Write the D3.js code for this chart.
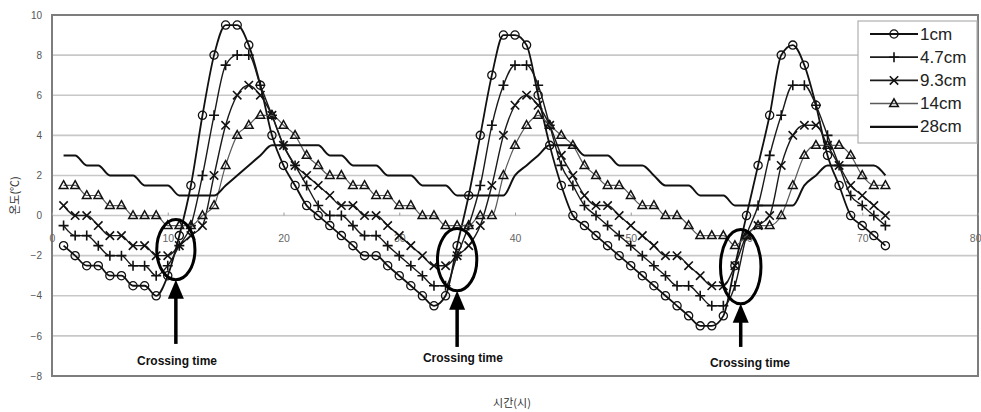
<!DOCTYPE html>
<html>
<head>
<meta charset="utf-8">
<script src="https://cdn.jsdelivr.net/npm/d3@7"></script>
<style>
  body { margin: 0; background: #fff; }
  svg { display: block; font-family: "Liberation Sans", Arial, sans-serif; }
</style>
</head>
<body>
<div id="chart"></div>
<script>
(function (d3) {
  'use strict';

  // hours (x) and soil temperature at each depth (y, °C)
  var hours = [1,2,3,4,5,6,7,8,9,10,11,12,13,14,15,16,17,18,19,20,21,22,23,24,
    25,26,27,28,29,30,31,32,33,34,35,36,37,38,39,40,41,42,43,44,45,46,47,48,
    49,50,51,52,53,54,55,56,57,58,59,60,61,62,63,64,65,66,67,68,69,70,71,72];

  var temp1cm = [-1.5,-2,-2.5,-2.5,-3,-3,-3.5,-3.5,-4,-3,-1,1.5,
    5,8,9.5,9.5,8.5,6.5,4,2.5,1.5,0.5,0,-0.5,
    -1,-1.5,-2,-2,-2.5,-3,-3.5,-4,-4.5,-4,-1.5,1,
    4,7,9,9,8.5,6,3.5,1.5,0,-0.5,-1,-1.5,
    -2,-2.5,-3,-3.5,-4,-4.5,-5,-5.5,-5.5,-5,-2.5,0,
    2.5,5,8,8.5,7.5,5.5,3,1.5,0,-0.5,-1,-1.5];

  var temp4_7cm = [-0.5,-1,-1,-1.5,-2,-2,-2.5,-2.5,-3,-2.5,-1.5,-0.5,
    2,5,7.5,8,8,6.5,5,3.5,2.5,1.5,0.5,0,
    0,-0.5,-1,-1,-1.5,-2,-2.5,-3,-3.5,-3.5,-2,-0.5,
    1.5,4.5,6.5,7.5,7.5,6.5,4.5,2.5,1.5,0.5,0,-0.5,
    -1,-1.5,-2,-2.5,-3,-3.5,-3.5,-4,-4.5,-4.5,-3.5,-1,
    0.5,3,5,6.5,6.5,5.5,4,2.5,1,0.5,0,-0.5];

  var temp9_3cm = [0.5,0,0,-0.5,-1,-1,-1.5,-1.5,-2,-2,-1.5,-1,
    -0.5,2,4.5,6,6.5,6,5,3.5,2.5,2,1.5,1,
    0.5,0.5,0,0,-0.5,-1,-1.5,-2,-2.5,-2.5,-2,-1.5,
    -0.5,1.5,4,5.5,6,5.5,4.5,3,2,1,0.5,0.5,
    0,-0.5,-1,-1.5,-2,-2,-2.5,-3,-3.5,-3.5,-2.5,-1,
    -0.5,0,2.5,4,4.5,4.5,3.5,2.5,1.5,1,0.5,0];

  var temp14cm = [1.5,1.5,1,1,0.5,0.5,0,0,0,-0.5,-0.5,-0.5,
    0,0.5,2.5,4,4.5,5,5,4.5,4,3,2.5,2,
    2,1.5,1.5,1,1,0.5,0.5,0,0,-0.5,-0.5,-0.5,
    0,0,2,3.5,4.5,5,4.5,4,3.5,2.5,2,1.5,
    1.5,1,0.5,0.5,0,0,-0.5,-1,-1,-1,-1.5,-1,
    -0.5,-0.5,0,1.5,3,3.5,3.5,3.5,3,2,1.5,1.5];

  var temp28cm = [3,3,2.5,2.5,2,2,2,1.5,1.5,1.5,1,1,
    1,1,1.5,2,2.5,3,3.5,3.5,3.5,3.5,3.5,3,
    3,2.5,2.5,2.5,2,2,2,1.5,1.5,1.5,1,1,
    1,1,1,2,2.5,3,3.5,3.5,3.5,3,3,3,
    2.5,2.5,2.5,2,1.5,1.5,1.5,1,1,1,0.5,0.5,
    0.5,0.5,0.5,0.5,1.5,2,2.5,2.5,2.5,2.5,2.5,2];

  var seriesNames = ["1cm", "4.7cm", "9.3cm", "14cm", "28cm"];
  var seriesValues = [temp1cm, temp4_7cm, temp9_3cm, temp14cm, temp28cm];

  var xTicks = [0, 10, 20, 30, 40, 50, 60, 70, 80];
  var yTicks = [-8, -6, -4, -2, 0, 2, 4, 6, 8, 10];

  // crossing-time annotations: ellipse centre and half-sizes in (hours, °C)
  var crossT = [10.7, 35.0, 59.5];
  var crossV = [-1.7, -2.2, -2.55];
  var crossRT = [1.65, 1.7, 1.75];
  var crossRV = [1.5, 1.55, 1.85];
  var crossArrowEnd = [-6.4, -6.55, -6.55];
  var crossLabelT = [10.8, 35.5, 60.3];
  var crossLabelV = [-7.25, -7.1, -7.35];
  var crossLabel = "Crossing time";

  var xTitle = "시간(시)";
  var yTitle = "온도(℃)";

  var width = 981, height = 412;
  var svg = d3.select("#chart").append("svg").attr("width", width).attr("height", height);

  var x = d3.scaleLinear().domain([0, 80]).range([52, 978]);
  var y = d3.scaleLinear().domain([-8, 10]).range([376, 15]);

  // gridlines
  svg.append("g").selectAll("line").data(yTicks.filter(function (d) { return d > -8 && d < 10; }))
    .enter().append("line")
    .attr("x1", x(0)).attr("x2", x(80))
    .attr("y1", function (d) { return y(d); }).attr("y2", function (d) { return y(d); })
    .attr("stroke", "#c8c8c8").attr("stroke-width", 1.6);

  // plot frame
  svg.append("rect")
    .attr("x", x(0)).attr("y", y(10))
    .attr("width", x(80) - x(0)).attr("height", y(-8) - y(10))
    .attr("fill", "none").attr("stroke", "#7d7d7d").attr("stroke-width", 2);

  // y axis
  var yAxisG = svg.append("g").attr("transform", "translate(" + x(0) + ",0)")
    .call(d3.axisLeft(y).tickValues(yTicks).tickSize(0).tickPadding(10));
  yAxisG.select(".domain").remove();
  yAxisG.selectAll("text").attr("fill", "#555").style("font-size", "10px");

  // x axis, crossing at 0 degrees
  var xAxisG = svg.append("g").attr("transform", "translate(0," + y(0) + ")")
    .call(d3.axisBottom(x).tickValues(xTicks).tickSize(-3).tickPadding(19));
  xAxisG.select(".domain").remove();
  xAxisG.selectAll("line").attr("stroke", "#999");
  xAxisG.selectAll("text").attr("fill", "#666").style("font-size", "10.5px")
    .attr("text-anchor", function (d) { return d === 80 ? "end" : "middle"; })
    .attr("dx", function (d) { return d === 80 ? "3" : "0"; });

  // axis titles
  svg.append("text")
    .attr("transform", "translate(14," + y(1) + ") rotate(-90)")
    .attr("text-anchor", "middle").attr("dominant-baseline", "central")
    .style("font-family", "'Noto Sans CJK KR', sans-serif").style("font-size", "11px")
    .attr("fill", "#333").text(yTitle);
  svg.append("text")
    .attr("x", (x(0) + x(80)) / 2 - 3).attr("y", 402)
    .attr("text-anchor", "middle").attr("dominant-baseline", "central")
    .style("font-family", "'Noto Sans CJK KR', sans-serif").style("font-size", "11px")
    .attr("fill", "#333").text(xTitle);

  // marker shapes for d3.symbol, size = radius
  var markCircle = { draw: function (c, r) { c.moveTo(r, 0); c.arc(0, 0, r, 0, 2 * Math.PI); } };
  var markPlus = { draw: function (c, r) { c.moveTo(-r, 0); c.lineTo(r, 0); c.moveTo(0, -r); c.lineTo(0, r); } };
  var markTimes = { draw: function (c, r) { c.moveTo(-r, -r); c.lineTo(r, r); c.moveTo(-r, r); c.lineTo(r, -r); } };
  var markTriangle = { draw: function (c, r) { c.moveTo(0, -r); c.lineTo(r * 0.9, r * 0.62); c.lineTo(-r * 0.9, r * 0.62); c.closePath(); } };

  var styles = [
    { stroke: "#111", width: 1.8, mark: markCircle, size: 4.1, mw: 1.3 },
    { stroke: "#1a1a1a", width: 1.4, mark: markPlus, size: 5, mw: 1.6 },
    { stroke: "#1a1a1a", width: 1.4, mark: markTimes, size: 4.2, mw: 1.6 },
    { stroke: "#5a5a5a", width: 1.2, mark: markTriangle, size: 4.8, mw: 1.5 },
    { stroke: "#111", width: 2, mark: null, size: 0, mw: 0 }
  ];

  var line = d3.line()
    .x(function (d) { return x(d[0]); })
    .y(function (d) { return y(d[1]); })
    .curve(d3.curveMonotoneX);

  seriesValues.forEach(function (vals, i) {
    var pts = hours.map(function (h, j) { return [h, vals[j]]; });
    var st = styles[i];
    var g = svg.append("g").attr("class", "series");
    g.append("path").datum(pts).attr("d", line)
      .attr("fill", "none").attr("stroke", st.stroke).attr("stroke-width", st.width)
      .attr("stroke-linejoin", "round");
    if (st.mark) {
      var sym = d3.symbol().type(st.mark).size(st.size);
      g.selectAll("path.mark").data(pts).enter().append("path").attr("class", "mark")
        .attr("transform", function (d) { return "translate(" + x(d[0]) + "," + y(d[1]) + ")"; })
        .attr("d", sym).attr("fill", "none").attr("stroke", "#111").attr("stroke-width", st.mw);
    }
  });

  // crossing time annotations
  var ann = svg.append("g");
  crossT.forEach(function (t, i) {
    var cx = x(t), cy = y(crossV[i]);
    var rx = x(crossRT[i]) - x(0), ry = y(0) - y(crossRV[i]);
    ann.append("ellipse").attr("cx", cx).attr("cy", cy).attr("rx", rx).attr("ry", ry)
      .attr("fill", "none").attr("stroke", "#000").attr("stroke-width", 3);
    var tip = cy + ry;
    ann.append("line").attr("x1", cx).attr("x2", cx)
      .attr("y1", tip + 14).attr("y2", y(crossArrowEnd[i]))
      .attr("stroke", "#000").attr("stroke-width", 3.5);
    ann.append("path")
      .attr("d", "M" + cx + "," + tip + "L" + (cx + 8) + "," + (tip + 19) + "L" + (cx - 8) + "," + (tip + 19) + "Z")
      .attr("fill", "#000");
    ann.append("text").attr("x", x(crossLabelT[i])).attr("y", y(crossLabelV[i]))
      .attr("text-anchor", "middle").attr("dominant-baseline", "central")
      .style("font-size", "12px").style("font-weight", "bold").attr("fill", "#111")
      .text(crossLabel);
  });

  // legend
  var lg = svg.append("g");
  lg.append("rect").attr("x", 858).attr("y", 21).attr("width", 119).attr("height", 122)
    .attr("fill", "#fff").attr("stroke", "#b0b0b0").attr("stroke-width", 1.2);
  seriesNames.forEach(function (name, i) {
    var ry = 34 + i * 23.2;
    var st = styles[i];
    lg.append("line").attr("x1", 870).attr("x2", 918).attr("y1", ry).attr("y2", ry)
      .attr("stroke", st.stroke).attr("stroke-width", st.width + 0.3);
    if (st.mark) {
      lg.append("path").attr("transform", "translate(894," + ry + ")")
        .attr("d", d3.symbol().type(st.mark).size(st.size))
        .attr("fill", "none").attr("stroke", "#111").attr("stroke-width", st.mw);
    }
    lg.append("text").attr("x", 920).attr("y", ry).attr("dominant-baseline", "central")
      .style("font-size", "17px").attr("fill", "#222").text(name);
  });
})(d3);
</script>
</body>
</html>
